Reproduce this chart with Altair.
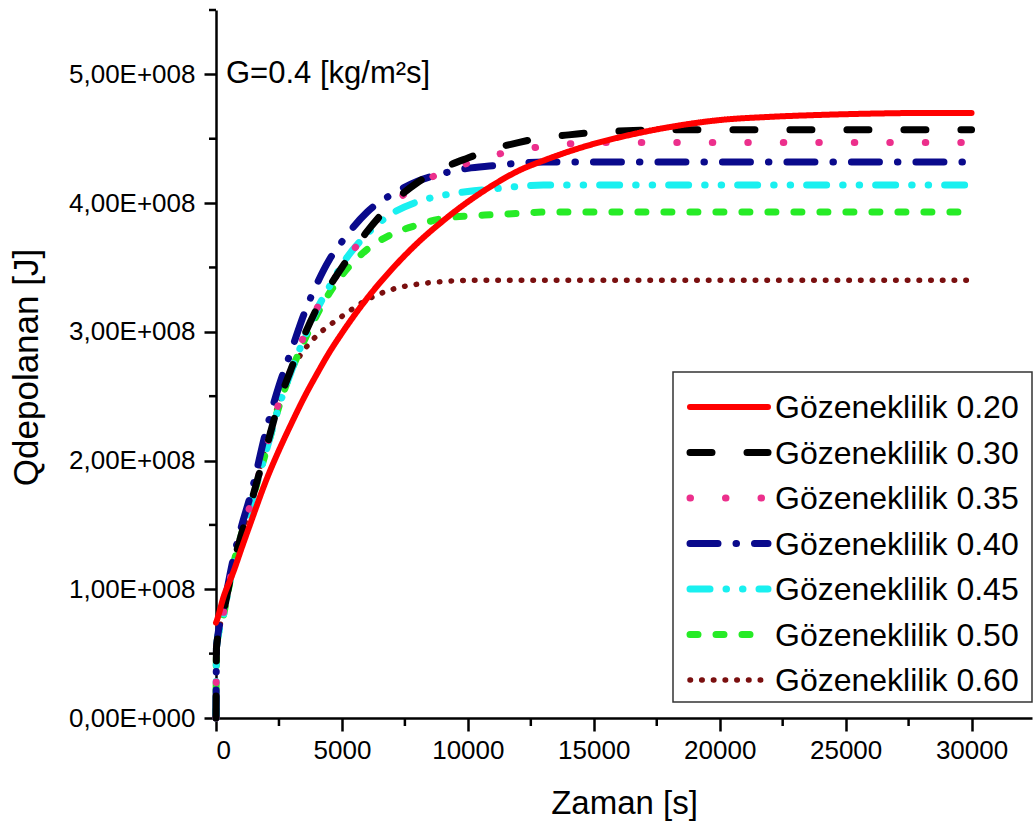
import altair as alt
import pandas as pd

# time grid [s]
T = [0, 20, 300, 700, 1000, 1400, 2000, 2500, 3000, 3500, 4000, 4500, 5000,
     6000, 7000, 8000, 9000, 10000, 11000, 12000, 13000, 14000, 15000, 16000,
     18000, 20000, 22000, 24000, 26000, 28000, 30000]

series = ["Gözeneklilik 0.20", "Gözeneklilik 0.30", "Gözeneklilik 0.35",
          "Gözeneklilik 0.40", "Gözeneklilik 0.45", "Gözeneklilik 0.50",
          "Gözeneklilik 0.60"]

# Qdepolanan values in units of 1E+008 J
Q020 = [0.74, 0.75, 0.94, 1.14, 1.31, 1.53, 1.85, 2.08, 2.29, 2.49, 2.67, 2.84, 2.99,
        3.26, 3.49, 3.69, 3.86, 4.01, 4.14, 4.25, 4.33, 4.40, 4.46, 4.51,
        4.59, 4.645, 4.67, 4.685, 4.695, 4.70, 4.70]
Q030 = [0.0, 0.55, 0.82, 1.20, 1.42, 1.68, 2.10, 2.45, 2.72, 2.97, 3.18, 3.35, 3.50,
        3.78, 4.00, 4.16, 4.27, 4.35, 4.42, 4.47, 4.51, 4.53, 4.55, 4.56,
        4.57, 4.57, 4.57, 4.57, 4.57, 4.57, 4.57]
Q035 = [0.0, 0.55, 0.82, 1.20, 1.42, 1.68, 2.10, 2.45, 2.72, 2.97, 3.18, 3.35, 3.50,
        3.78, 3.99, 4.14, 4.24, 4.31, 4.37, 4.41, 4.44, 4.46, 4.47, 4.47,
        4.47, 4.47, 4.47, 4.47, 4.47, 4.47, 4.47]
Q040 = [0.0, 0.55, 0.85, 1.25, 1.48, 1.75, 2.24, 2.58, 2.86, 3.14, 3.37, 3.56, 3.70,
        3.93, 4.07, 4.17, 4.23, 4.27, 4.29, 4.31, 4.32, 4.32, 4.32, 4.32,
        4.32, 4.32, 4.32, 4.32, 4.32, 4.32, 4.32]
Q045 = [0.0, 0.55, 0.80, 1.20, 1.42, 1.67, 2.08, 2.42, 2.70, 2.95, 3.17, 3.35, 3.52,
        3.76, 3.92, 4.01, 4.06, 4.09, 4.11, 4.13, 4.14, 4.14, 4.14, 4.14,
        4.14, 4.14, 4.14, 4.14, 4.14, 4.14, 4.14]
Q050 = [0.0, 0.55, 0.80, 1.20, 1.42, 1.67, 2.08, 2.42, 2.70, 2.93, 3.13, 3.30, 3.44,
        3.64, 3.76, 3.83, 3.88, 3.90, 3.91, 3.92, 3.93, 3.93, 3.93, 3.93,
        3.93, 3.93, 3.93, 3.93, 3.93, 3.93, 3.93]
Q060 = [0.0, 0.55, 0.82, 1.20, 1.42, 1.68, 2.12, 2.45, 2.70, 2.86, 2.97, 3.05, 3.12,
        3.25, 3.33, 3.37, 3.39, 3.40, 3.40, 3.40, 3.40, 3.40, 3.40, 3.40,
        3.40, 3.40, 3.40, 3.40, 3.40, 3.40, 3.40]

values = [Q020, Q030, Q035, Q040, Q045, Q050, Q060]
colors = ["#FF0000", "#000000", "#EC2F8C", "#0A0A8C", "#19F0F0", "#26EB26", "#7A0F0F"]
dashes = [[1, 0], [22, 35], [0.5, 35], [28, 18, 0.5, 18],
          [20, 16, 0.5, 16, 0.5, 16], [8, 18], [0.5, 11.2]]
widths = [6, 7, 7, 7, 7, 7, 5.5]

x_major = [0, 5000, 10000, 15000, 20000, 25000, 30000]
x_minor = [2500, 7500, 12500, 17500, 22500, 27500]
y_major = [0, 1, 2, 3, 4, 5]
y_minor = [0.5, 1.5, 2.5, 3.5, 4.5, 5.5]
annotation = "G=0.4 [kg/m²s]"

rows = []
for name, vals in zip(series, values):
    for t, q in zip(T, vals):
        rows.append({"t": t, "Q": q, "s": name})
df = pd.DataFrame(rows)

FONT = "Liberation Sans"
W, H = 816, 708
xscale = alt.Scale(domain=[0, 32400], nice=False, zero=False)
yscale = alt.Scale(domain=[0, 5.5], nice=False, zero=False)

xaxis = alt.Axis(values=x_major, format="d", title="Zaman [s]", tickSize=13,
                 labelPadding=6, titleX=408, titleY=95, titleBaseline="alphabetic",
                 titleAlign="center")
yaxis = alt.Axis(values=y_major, title="Qdepolanan [J]", tickSize=12, labelPadding=9,
                 labelExpr="datum.value == 0 ? '0,00E+000' : replace(format(datum.value, '.2f'), '.', ',') + 'E+008'",
                 titleX=-179, titleY=357, titleBaseline="alphabetic", titleAlign="center",
                 titleFontSize=35)

layers = []
for i in list(range(len(series)))[::-1]:
    name = series[i]
    layers.append(alt.Chart(df).transform_filter(alt.datum.s == name).mark_line(
        strokeWidth=widths[i], strokeCap="round", strokeJoin="round",
        strokeDash=dashes[i], color=colors[i], interpolate="monotone"
    ).encode(
        x=alt.X("t:Q", scale=xscale, axis=xaxis),
        y=alt.Y("Q:Q", scale=yscale, axis=yaxis),
    ))

# minor ticks drawn through the shared scales
minor_x = alt.Chart(pd.DataFrame({"t": x_minor})).mark_rule(
    color="black", strokeWidth=2.5
).encode(x=alt.X("t:Q", scale=xscale, axis=xaxis), y=alt.value(H), y2=alt.value(H + 8))
minor_y = alt.Chart(pd.DataFrame({"Q": y_minor})).mark_rule(
    color="black", strokeWidth=2.5
).encode(y=alt.Y("Q:Q", scale=yscale, axis=yaxis), x=alt.value(0), x2=alt.value(-7))

# legend (box, line samples, labels)
LX0, LX1, LY0, LY1 = 457, 816, 362, 692
SX0, SX1, ROW0, DROW = 474, 552, 397, 45.5
legend_layers = [
    alt.Chart(pd.DataFrame({"a": [0]})).mark_rect(
        fill="white", stroke="#333333", strokeWidth=1.5
    ).encode(x=alt.value(LX0), x2=alt.value(LX1), y=alt.value(LY0), y2=alt.value(LY1))
]
for i, name in enumerate(series):
    yy = ROW0 + i * DROW
    entry = pd.DataFrame({"label": [name]})
    legend_layers.append(alt.Chart(entry).mark_rule(
        strokeWidth=widths[i], strokeCap="round", strokeDash=dashes[i], color=colors[i]
    ).encode(x=alt.value(SX0), x2=alt.value(SX1), y=alt.value(yy)))
    legend_layers.append(alt.Chart(entry).mark_text(
        align="left", baseline="middle", fontSize=32, font=FONT, color="black"
    ).encode(text="label:N", x=alt.value(SX1 + 7), y=alt.value(yy + 1)))

text = alt.Chart(pd.DataFrame({"label": [annotation]})).mark_text(
    align="left", baseline="middle", fontSize=31, font=FONT, color="black"
).encode(text="label:N", x=alt.value(10), y=alt.value(64))

chart = alt.layer(*layers, minor_x, minor_y, *legend_layers, text).properties(
    width=W, height=H,
    background="white",
    autosize=alt.AutoSizeParams(type="none"),
    padding={"left": 216, "top": 10, "right": 1, "bottom": 119},
).configure_view(stroke=None).configure_axis(
    grid=False, domainColor="black", domainWidth=2.5, tickColor="black", tickWidth=2.5,
    labelColor="black", labelFont=FONT, labelFontSize=26, titleFont=FONT,
    titleFontSize=33, titleFontWeight="normal", titleColor="black"
)

chart.save("out.html", embed_options={"renderer": "svg", "actions": False})
